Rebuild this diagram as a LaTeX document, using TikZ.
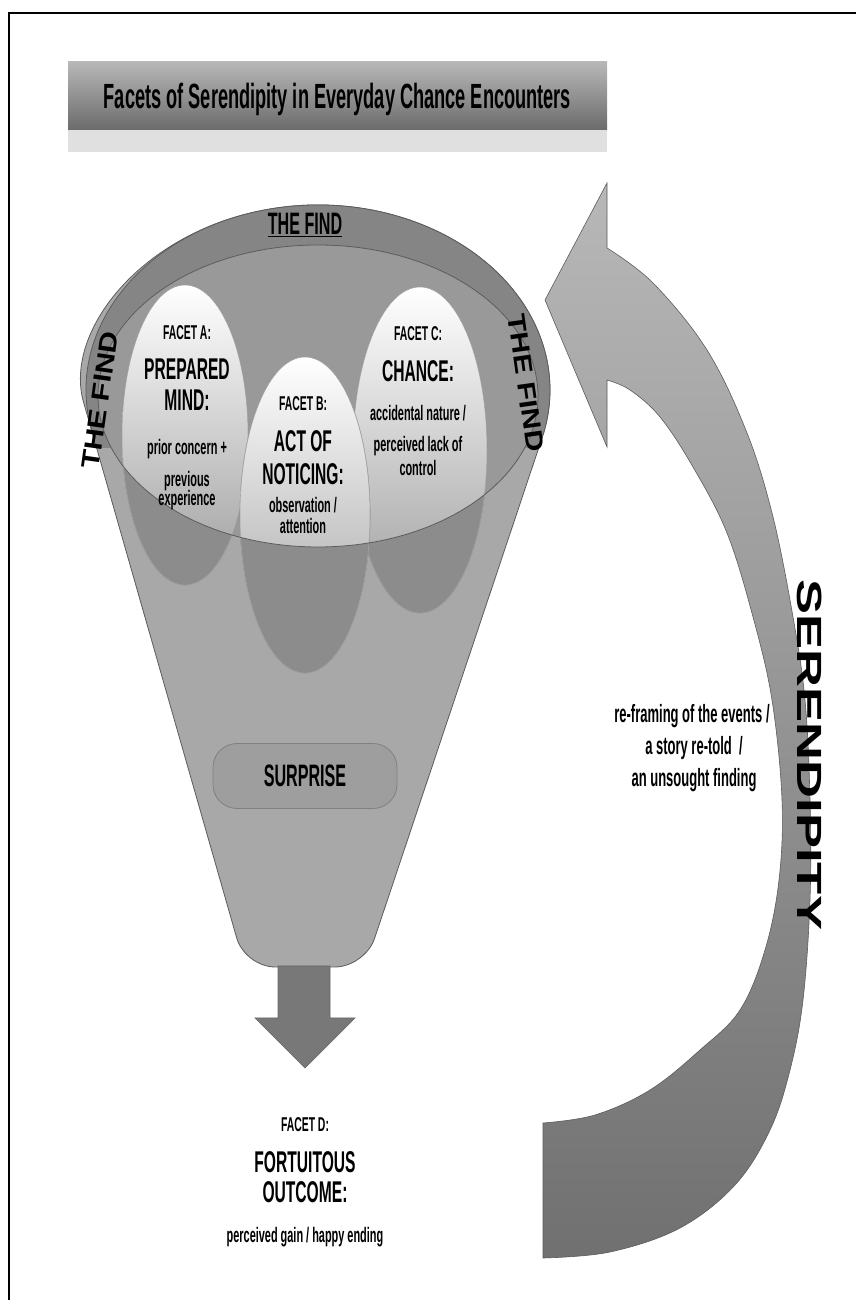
\documentclass[tikz,border=0pt]{standalone}
\usepackage{fontspec}
\setmainfont{Liberation Sans}
\newfontfamily\narrowfont[FakeStretch=0.52]{Liberation Sans}
\newfontfamily\findfont[FakeStretch=1.2]{Liberation Sans}
\newfontfamily\widefont[FakeStretch=1.5]{Liberation Sans}
\usepackage{tikz}

\definecolor{bodygray}{gray}{0.66}
\definecolor{bandgray}{gray}{0.52}
\definecolor{innergray}{gray}{0.60}
\definecolor{shadowgray}{gray}{0.55}
\definecolor{edgegray}{gray}{0.36}
\definecolor{arrowgray}{gray}{0.47}

\tikzset{
  headtxt/.style={font=\narrowfont\bfseries\fontsize{20}{22}\selectfont, inner sep=0pt, anchor=base},
  bigtxt/.style={font=\narrowfont\bfseries\fontsize{30}{32}\selectfont, inner sep=0pt, anchor=base},
  smalltxt/.style={font=\narrowfont\bfseries\fontsize{21}{23}\selectfont, inner sep=0pt, anchor=base},
  sidetxt/.style={font=\narrowfont\bfseries\fontsize{25}{27}\selectfont, inner sep=0pt, anchor=base},
  findtxt/.style={font=\findfont\bfseries\fontsize{25}{27}\selectfont, inner sep=0pt},
  serentxt/.style={font=\widefont\bfseries\fontsize{35}{38}\selectfont, inner sep=0pt},
  banner/.style={minimum width=539pt, minimum height=68pt, inner sep=0pt, text depth=0pt,
    top color=black!28, bottom color=black!58,
    font=\narrowfont\bfseries\fontsize{35}{38}\selectfont},
  surprisebox/.style={rounded corners=24pt, minimum width=184pt, minimum height=65pt,
    inner sep=0pt, text depth=0pt, fill=black!38, draw=black!50, line width=0.8pt,
    font=\narrowfont\bfseries\fontsize{31}{33}\selectfont},
  thinedge/.style={draw=edgegray, line width=0.8pt},
}

\begin{document}
\begin{tikzpicture}[x=1pt,y=1pt]
\useasboundingbox (0,0) rectangle (856,1300);

%   frame
\draw[line width=2pt] (8,1287) -- (856,1287);
\draw[line width=1.5pt] (9,1287) -- (9,0);

%   title
\fill[black!12] (68,1170) rectangle (607,1148);
\node[banner] (title) at (337.5,1204) {Facets of Serendipity in Everyday Chance Encounters};

%   serendipity arrow
\shadedraw[top color=black!28, bottom color=black!56, draw=edgegray, line width=0.6pt]
  plot[smooth, tension=0.6] coordinates {(543,42) (610,48) (680,72) (735,115) (770,170)
    (790,230) (803,300) (810,400) (810,500) (805,600) (793,683) (773,783) (747,867)
    (707,950) (653,1017) (607,1052)}
  -- (607,1117) -- (545,1000) -- (607,853) -- (607,920)
  -- plot[smooth, tension=0.6] coordinates {(607,920) (630,910) (660,883) (693,833)
    (727,767) (753,683) (772,600) (782,500) (779,420) (765,350) (740,290) (700,250)
    (650,210) (595,185) (543,177)}
  -- cycle;

%   funnel
\filldraw[fill=bodygray, thinedge] (91.8,868.9)
  arc[start angle=192.84, end angle=-14.94, x radius=232, y radius=185]
  [rounded corners=30pt] -- (365,333) -- (245,333) -- cycle;
\begin{scope}
  \clip (0,852) rectangle (856,1300);
  \fill[bandgray] (318,910) ellipse[x radius=232, y radius=185];
\end{scope}
\fill[innergray] (318,904) ellipse[x radius=220, y radius=151];
\draw[thinedge] (91.8,868.9) arc[start angle=192.84, end angle=-14.94, x radius=232, y radius=185];

%   facets
\foreach \cx/\cy/\rx/\ry in {185/865/63/150, 420/850/67/163, 305/785/65/158}{
  \filldraw[fill=shadowgray, draw=black!50, line width=0.6pt] (\cx,\cy) ellipse[x radius=\rx, y radius=\ry];
  \begin{scope}
    \clip (318,904) ellipse[x radius=220, y radius=151];
    \shade[top color=white, bottom color=black!38] (\cx,\cy) ellipse[x radius=\rx, y radius=\ry];
  \end{scope}
  \draw[black!35, line width=0.6pt] (\cx,\cy) ellipse[x radius=\rx, y radius=\ry];
}
\draw[thinedge] (318,904) ellipse[x radius=220, y radius=151];

%   the find
\node[inner sep=0pt, anchor=base, font=\narrowfont\bfseries\fontsize{31}{33}\selectfont] (findtop) at (305,1065) {\underline{THE FIND}};
\node[findtxt, rotate=82] (findleft) at (100,900) {THE FIND};
\node[findtxt, rotate=-82] (findright) at (526,917) {THE FIND};

%   facet A
\node[headtxt] (faA) at (187,960) {FACET A:};
\node[bigtxt] (fbA1) at (187,920) {PREPARED};
\node[bigtxt] (fbA2) at (187,889) {MIND:};
\node[smalltxt] (fsA1) at (187,845) {prior concern +};
\node[smalltxt] (fsA2) at (187,813) {previous};
\node[smalltxt] (fsA3) at (187,794) {experience};

%   facet B
\node[headtxt] (faB) at (303,889) {FACET B:};
\node[bigtxt] (fbB1) at (303,848) {ACT OF};
\node[bigtxt] (fbB2) at (303,815) {NOTICING:};
\node[smalltxt] (fsB1) at (303,787) {observation /};
\node[smalltxt] (fsB2) at (303,766) {attention};

%   facet C
\node[headtxt] (faC) at (418,959) {FACET C:};
\node[bigtxt] (fbC1) at (418,918) {CHANCE:};
\node[smalltxt] (fsC1) at (418,879) {accidental nature /};
\node[smalltxt] (fsC2) at (418,848) {perceived lack of};
\node[smalltxt] (fsC3) at (418,824) {control};

%   surprise
\node[surprisebox] (surprise) at (305,524) {SURPRISE};

%   down arrow
\filldraw[fill=arrowgray, draw=black!60, line width=0.6pt]
  (278,334) -- (278,282) -- (255,282) -- (305,232) -- (355,282) -- (330,282) -- (330,334) -- cycle;

%   facet D
\node[headtxt] (faD) at (305,168) {FACET D:};
\node[bigtxt] (fbD1) at (305,127) {FORTUITOUS};
\node[bigtxt] (fbD2) at (305,97) {OUTCOME:};
\node[smalltxt] (fsD1) at (305,57) {perceived gain / happy ending};

%   serendipity
\node[sidetxt] (sr1) at (692,577) {re-framing of the events /};
\node[sidetxt] (sr2) at (694,545) {a story re-told\ \ /};
\node[sidetxt] (sr3) at (694,513) {an unsought finding};
\node[serentxt, rotate=-90] (seren) at (810,545) {SERENDIPITY};

\end{tikzpicture}
\end{document}
